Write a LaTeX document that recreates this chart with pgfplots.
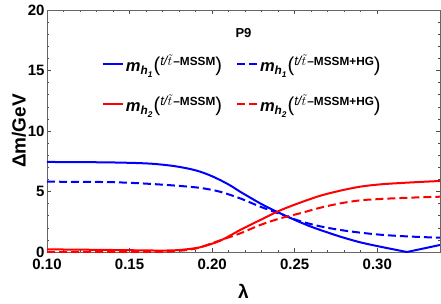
\documentclass[border=0pt]{standalone}
\usepackage{fontspec}
\setmainfont{Liberation Sans}
\usepackage{graphicx}
\usepackage{pgfplots}
\pgfplotsset{compat=1.18}
\newcommand{\lgd}[2]{\scalebox{1.18}{%
{\fontsize{14}{14}\selectfont\bfseries\itshape m}%
\raisebox{-0.3em}{\fontsize{10}{10}\selectfont\bfseries\itshape h\raisebox{-0.25em}{\fontsize{7}{7}\selectfont #1}}%
\hspace{1pt}{\fontsize{17}{17}\selectfont(}%
\raisebox{0.45em}{\fontsize{11}{11}\selectfont\itshape t/$\tilde{t}$\fontsize{10}{10}\selectfont\upshape\bfseries\hspace{1pt}–#2}%
{\fontsize{17}{17}\selectfont)}}}
\begin{document}
\begin{tikzpicture}
\begin{axis}[name=ax, scale only axis, width=393pt, height=242pt,
 xmin=0.1, xmax=0.338, ymin=0, ymax=20,
 xtick={0.10,0.15,0.20,0.25,0.30}, ytick={0,5,10,15,20},
 scaled x ticks=false,
 minor x tick num=4, minor y tick num=4,
 tick align=inside, major tick length=4pt, minor tick length=2pt,
 axis line style={gray!80!black, line width=0.6pt},
 every tick/.style={gray!60!black, line width=0.5pt},
 tick label style={font=\fontsize{15}{15}\selectfont\bfseries},
 /pgf/number format/assume math mode=true,
 xticklabel style={yshift=-3pt,/pgf/number format/.cd,fixed,fixed zerofill,precision=2,/tikz/.cd},
 yticklabel style={xshift=1pt},
 xlabel={λ}, ylabel={Δm/GeV},
 xlabel style={font=\fontsize{19}{19}\selectfont\bfseries, yshift=-8pt},
 ylabel style={font=\fontsize{19}{19}\selectfont\bfseries, yshift=-5pt},
 legend style={at={(rel axis cs:0.497,0.832)}, anchor=north, draw=none, fill=none,
   legend columns=2, row sep=18pt, font=\fontsize{10}{10}\selectfont,
   /tikz/every even column/.append style={column sep=12pt}},
 legend cell align=left,
 legend image code/.code={\draw[#1] (0pt,0pt) -- (20pt,0pt);},
 every axis plot/.append style={line width=2pt},
]
\addplot[blue, smooth] coordinates {
(0.100,7.44) (0.120,7.43) (0.140,7.40) (0.155,7.35) (0.165,7.28) (0.1766,7.11)
(0.1867,6.86) (0.1927,6.64) (0.1988,6.33) (0.2048,5.95) (0.211,5.50) (0.217,4.98)
(0.223,4.50) (0.2291,4.02) (0.235,3.60) (0.2412,3.20) (0.2473,2.82) (0.2533,2.46)
(0.2594,2.12) (0.2655,1.82) (0.2776,1.27) (0.2897,0.80) (0.3018,0.44) (0.3139,0.11)
(0.318,0.0)};
\addlegendentry{\lgd{1}{MSSM}}
\addplot[blue, dash pattern=on 8pt off 4pt, smooth] coordinates {
(0.100,5.81) (0.136,5.78) (0.156,5.68) (0.1766,5.50) (0.1927,5.30) (0.2048,4.98)
(0.217,4.43) (0.2291,3.75) (0.2412,3.14) (0.2533,2.55) (0.2655,2.12) (0.2776,1.82)
(0.2897,1.60) (0.3018,1.43) (0.3139,1.32) (0.3261,1.24) (0.338,1.18)};
\addlegendentry{\lgd{1}{MSSM+HG}}
\addplot[red, smooth] coordinates {
(0.100,0.22) (0.130,0.18) (0.156,0.14) (0.170,0.12) (0.1806,0.17) (0.1927,0.39)
(0.2048,0.93) (0.217,1.82) (0.2291,2.64) (0.2412,3.44) (0.2533,4.08) (0.2655,4.65)
(0.2776,5.07) (0.2897,5.40) (0.3018,5.59) (0.3139,5.70) (0.3261,5.79) (0.338,5.87)};
\addlegendentry{\lgd{2}{MSSM}}
\addplot[red, dash pattern=on 8pt off 4pt, smooth] coordinates {
(0.100,0.0) (0.165,0.0) (0.1766,0.06) (0.1867,0.20) (0.1927,0.39) (0.2048,0.96)
(0.217,1.54) (0.2291,2.23) (0.2412,2.78) (0.2533,3.20) (0.2655,3.66) (0.2776,4.02)
(0.2897,4.27) (0.3018,4.38) (0.3139,4.46) (0.3261,4.52) (0.338,4.57)};
\addlegendentry{\lgd{2}{MSSM+HG}}
\addplot[blue, forget plot] coordinates {(0.318,0.0) (0.338,0.58)};
\node at (rel axis cs:0.5,0.906) {\fontsize{13}{13}\selectfont\bfseries P9};
\end{axis}
\pgfresetboundingbox
\path ([xshift=-47pt,yshift=-51pt]ax.south west) rectangle ([xshift=1pt,yshift=10pt]ax.north east);
\end{tikzpicture}
\end{document}
